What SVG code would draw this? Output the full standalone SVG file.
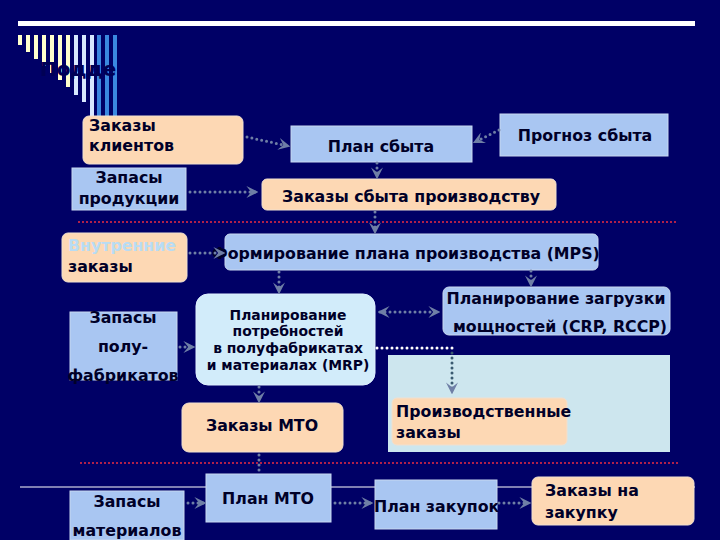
<svg xmlns="http://www.w3.org/2000/svg" width="720" height="540" viewBox="0 0 720 540">
<defs>
<style>
.t{font-family:"DejaVu Sans","Liberation Sans",sans-serif;font-weight:bold;font-size:15.8px;fill:#000028}
.s{font-size:13.9px}
.c{text-anchor:middle}
.peach{fill:#fdd8b4;stroke:#f0e0d0;stroke-width:1}
.blue{fill:#a9c6f2;stroke:#c8d8f0;stroke-width:1}
.pale{fill:#d2ecfa;stroke:#e0f0ff;stroke-width:1}
.con{stroke:#6f7fa6;stroke-width:3;stroke-dasharray:0 5;stroke-linecap:round;fill:none}
.red{stroke:#b0204a;stroke-width:2;stroke-dasharray:2 2;fill:none}
</style>
<marker id="ah" viewBox="0 0 10 10" refX="8" refY="5" markerWidth="4" markerHeight="4" orient="auto-start-reverse">
<path d="M0,0 L10,5 L0,10 L4,5 Z" fill="#6f7fa6"/>
</marker>
</defs>
<rect width="720" height="540" fill="#000066"/>
<g id="decor">
<rect x="18" y="21" width="677" height="5" fill="#ffffff"/>
<g fill="#ffffcc">
<rect x="18" y="35" width="4" height="10"/>
<rect x="26" y="35" width="4" height="17"/>
<rect x="34" y="35" width="4" height="24"/>
<rect x="42" y="35" width="4" height="31"/>
<rect x="50" y="35" width="4" height="38"/>
<rect x="58" y="35" width="4" height="45"/>
<rect x="66" y="35" width="4" height="52"/>
</g>
<g fill="#d8e8ff">
<rect x="74" y="35" width="4" height="60"/>
<rect x="82" y="35" width="4" height="67"/>
<rect x="90" y="35" width="4" height="82"/>
</g>
<g fill="#3a88e0">
<rect x="97" y="35" width="4" height="85"/>
<rect x="105" y="35" width="4" height="85"/>
<rect x="113" y="35" width="4" height="85"/>
</g>
<text x="40" y="76" font-family="DejaVu Sans,sans-serif" font-weight="bold" font-size="20" fill="#000055">Подде</text>
</g>
<g id="sep">
<line class="red" x1="78" y1="222" x2="677" y2="222"/>
<line class="red" x1="80" y1="463" x2="678" y2="463"/>
<line x1="20" y1="487" x2="695" y2="487" stroke="#ffffff" stroke-width="1"/>
</g>
<g id="panel"><rect x="388" y="355" width="282" height="97" fill="#cde6ee"/></g>
<g id="n1"><rect class="peach" x="83" y="116" width="160" height="48" rx="6"/><text class="t" x="89" y="131">Заказы</text><text class="t" x="89" y="151">клиентов</text></g>
<g id="n2"><rect class="blue" x="291" y="126" width="181" height="36"/><text class="t c" x="381" y="152">План сбыта</text></g>
<g id="n3"><rect class="blue" x="500" y="114" width="168" height="42"/><text class="t c" x="585" y="141">Прогноз сбыта</text></g>
<g id="n4"><rect class="blue" x="72" y="168" width="114" height="42"/><text class="t c" x="129" y="183">Запасы</text><text class="t c" x="129" y="204">продукции</text></g>
<g id="n5"><rect class="peach" x="262" y="179" width="294" height="31" rx="5"/><text class="t" x="282" y="202">Заказы сбыта производству</text></g>
<g id="n6"><rect class="peach" x="62" y="233" width="125" height="49" rx="6"/><text class="t" x="68" y="251" style="fill:#b8dcf4">Внутренние</text><text class="t" x="68" y="272">заказы</text></g>
<g id="n7"><rect class="blue" x="225" y="234" width="373" height="36" rx="5"/><text class="t" x="212" y="259">Формирование плана производства (MPS)</text></g>
<g id="n8"><rect class="blue" x="70" y="312" width="107" height="68"/><text class="t c" x="123" y="323">Запасы</text><text class="t c" x="123" y="352">полу-</text><text class="t c" x="123" y="381">фабрикатов</text></g>
<g id="n9"><rect class="pale" x="196" y="294" width="179" height="91" rx="12"/><text class="t s c" x="288" y="320">Планирование</text><text class="t s c" x="288" y="336">потребностей</text><text class="t s c" x="288" y="353">в полуфабрикатах</text><text class="t s c" x="288" y="370">и материалах (MRP)</text></g>
<g id="n10"><rect class="blue" x="443" y="287" width="227" height="48" rx="6"/><text class="t c" x="556" y="304">Планирование загрузки</text><text class="t c" x="560" y="332">мощностей (CRP, RCCP)</text></g>
<g id="n11"><rect class="peach" x="392" y="398" width="175" height="47" rx="5"/><text class="t" x="396" y="417">Производственные</text><text class="t" x="396" y="438">заказы</text></g>
<g id="n12"><rect class="peach" x="182" y="403" width="161" height="49" rx="7"/><text class="t c" x="262" y="431">Заказы МТО</text></g>
<g id="n13"><rect class="blue" x="70" y="491" width="114" height="49"/><text class="t c" x="127" y="507">Запасы</text><text class="t c" x="127" y="536">материалов</text></g>
<g id="n14"><rect class="blue" x="206" y="474" width="125" height="48"/><text class="t c" x="268" y="504">План МТО</text></g>
<g id="n15"><rect class="blue" x="375" y="480" width="122" height="49"/><text class="t" x="374" y="512">План закупок</text></g>
<g id="n16"><rect class="peach" x="532" y="477" width="162" height="48" rx="6"/><text class="t" x="545" y="496">Заказы на</text><text class="t" x="545" y="518">закупку</text></g>
<g id="connectors">
<line class="con" x1="247" y1="137" x2="288" y2="146" marker-end="url(#ah)"/>
<line class="con" x1="499" y1="130" x2="475" y2="142" marker-end="url(#ah)"/>
<line class="con" x1="377" y1="163" x2="377" y2="177" marker-end="url(#ah)"/>
<line class="con" x1="190" y1="192" x2="256" y2="192" marker-end="url(#ah)"/>
<line class="con" x1="375" y1="212" x2="375" y2="232" marker-end="url(#ah)"/>
<line class="con" x1="190" y1="253" x2="223" y2="253" marker-end="url(#ah)"/>
<line class="con" x1="279" y1="272" x2="279" y2="292" marker-end="url(#ah)"/>
<line class="con" x1="531" y1="271" x2="531" y2="285" marker-end="url(#ah)"/>
<line class="con" x1="180" y1="347" x2="193" y2="347" marker-end="url(#ah)"/>
<line class="con" x1="380" y1="312" x2="438" y2="312" marker-start="url(#ah)" marker-end="url(#ah)"/>
<line x1="377" y1="348" x2="455" y2="348" stroke="#ffffff" stroke-width="3" stroke-dasharray="0 5" stroke-linecap="round"/>
<line x1="452" y1="353" x2="452" y2="392" stroke="#3a5a70" stroke-width="3" stroke-dasharray="0 5" stroke-linecap="round" marker-end="url(#ah)"/>
<line class="con" x1="259" y1="387" x2="259" y2="401" marker-end="url(#ah)"/>
<line class="con" x1="259" y1="455" x2="259" y2="473"/>
<line class="con" x1="188" y1="503" x2="204" y2="503" marker-end="url(#ah)"/>
<line class="con" x1="335" y1="503" x2="371" y2="503" marker-end="url(#ah)"/>
<line class="con" x1="499" y1="503" x2="529" y2="503" marker-end="url(#ah)"/>
</g>
</svg>
